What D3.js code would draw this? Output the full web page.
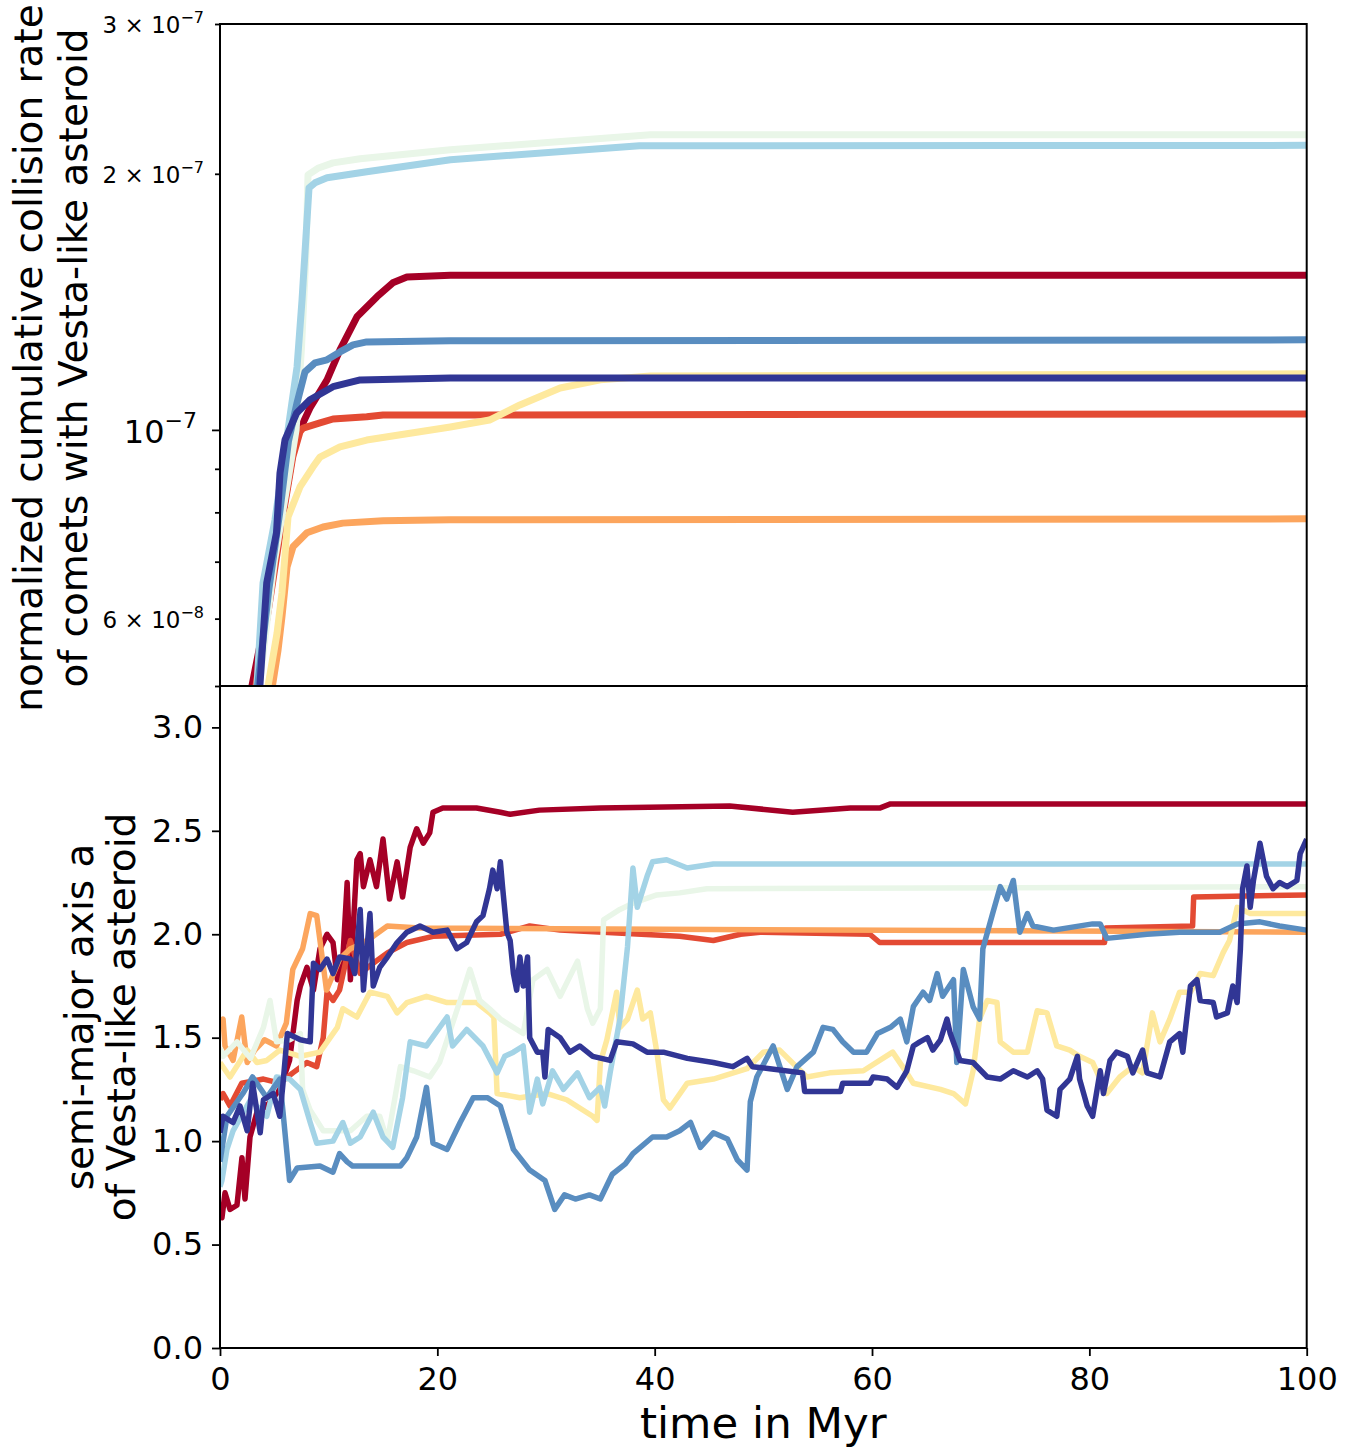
<!DOCTYPE html>
<html>
<head>
<meta charset="utf-8">
<script src="https://cdn.jsdelivr.net/npm/d3@7"></script>
<style>
body { margin: 0; background: #fff; }
svg text { font-family: "DejaVu Sans", sans-serif; fill: #000; }
</style>
</head>
<body>
<div id="container"></div>
<script>
// colours of the eight runs (RdYlBu sampled at 8 steps)
let seriesColors = ["#a50026", "#e34a33", "#fca55d", "#fee99e", "#e9f6e8", "#a3d3e6", "#598dc0", "#313695"];

// top panel: [time in Myr, normalized cumulative collision rate]
let rateRed = [[2.5,4.2e-8],[2.94,5.0e-8],[4.14,5.98e-8],[5.52,7.63e-8],[6.9,9.73e-8],[8.28,1.061e-7],[9.85,1.145e-7],[11.04,1.242e-7],[12.6,1.358e-7],[14.45,1.434e-7],[15.9,1.489e-7],[17.2,1.513e-7],[21.2,1.52e-7],[100,1.52e-7]];
let rateRedOrange = [[2.8,4.2e-8],[3.3,5.0e-8],[4.5,6.2e-8],[5.7,7.8e-8],[6.7,9.3e-8],[7.36,9.95e-8],[7.64,1.005e-7],[9.2,1.019e-7],[10.4,1.03e-7],[13.5,1.036e-7],[15,1.041e-7],[100,1.044e-7]];
let rateOrange = [[4.4,4.3e-8],[4.79,4.97e-8],[5.34,5.51e-8],[5.7,6.03e-8],[6.17,6.9e-8],[6.72,7.29e-8],[8.0,7.57e-8],[9.48,7.69e-8],[11.3,7.77e-8],[15,7.82e-8],[21.2,7.84e-8],[100,7.86e-8]];
let rateYellow = [[4.0,4.3e-8],[4.42,5.0e-8],[5.25,5.77e-8],[5.7,6.43e-8],[6.26,7.9e-8],[7.36,8.57e-8],[8.56,9.05e-8],[9.2,9.29e-8],[11.04,9.55e-8],[13.5,9.73e-8],[16.6,9.87e-8],[21.2,1.008e-7],[24.8,1.027e-7],[27.6,1.07e-7],[31.3,1.12e-7],[35,1.145e-7],[39.6,1.157e-7],[100,1.164e-7]];
let ratePaleGreen = [[3.2,4.3e-8],[3.6,5.0e-8],[5.0,7.0e-8],[6.3,8.8e-8],[7.0,1.0e-7],[7.5,1.25e-7],[7.9,1.6e-7],[8.1,1.994e-7],[9.0,2.03e-7],[10.4,2.06e-7],[12.9,2.083e-7],[21.2,2.134e-7],[39.6,2.223e-7],[100,2.223e-7]];
let rateLightBlue = [[3.0,4.2e-8],[3.4,5.0e-8],[3.96,6.61e-8],[5.06,7.84e-8],[6.26,1.0e-7],[7.09,1.186e-7],[7.55,1.422e-7],[8.19,1.925e-7],[8.74,1.952e-7],[9.85,1.979e-7],[13.5,2.011e-7],[21.2,2.078e-7],[38.6,2.158e-7],[100,2.16e-7]];
let rateMidBlue = [[2.9,4.3e-8],[3.3,4.8e-8],[4.5,6.5e-8],[5.5,8.0e-8],[6.3,9.7e-8],[7.09,1.076e-7],[7.82,1.17e-7],[8.74,1.199e-7],[9.85,1.209e-7],[11.04,1.235e-7],[12.24,1.259e-7],[13.5,1.269e-7],[21.2,1.273e-7],[100,1.276e-7]];
let rateNavy = [[3.2,4.3e-8],[3.68,5.02e-8],[4.3,6.61e-8],[5.2,7.57e-8],[5.52,8.9e-8],[5.98,9.73e-8],[7.06,1.047e-7],[8.28,1.085e-7],[10.4,1.124e-7],[12.9,1.145e-7],[21.2,1.151e-7],[100,1.151e-7]];

// bottom panel: [time in Myr, semi-major axis a]
let semiRed = [[0,0.64],[0.18,0.63],[0.46,0.75],[0.92,0.67],[1.56,0.69],[2.02,0.92],[2.3,0.72],[2.76,1.02],[3.4,1.14],[4.3,1.17],[5.5,1.25],[6.4,1.39],[7.1,1.68],[7.4,1.75],[8.0,1.84],[8.6,1.73],[9.2,1.93],[9.85,2.0],[10.4,1.96],[10.8,1.78],[11.3,1.88],[11.7,2.25],[12.0,1.78],[12.2,1.97],[12.6,2.36],[12.9,2.39],[13.2,2.23],[13.8,2.36],[14.4,2.23],[15.0,2.46],[15.6,2.17],[16.3,2.35],[16.8,2.18],[17.5,2.42],[18.1,2.51],[18.7,2.44],[19.3,2.49],[19.6,2.59],[20.5,2.61],[23.6,2.61],[25.8,2.59],[26.7,2.58],[29.4,2.6],[35,2.61],[46.9,2.62],[52.7,2.59],[58,2.61],[60.7,2.61],[61.7,2.63],[100,2.63]];
let semiRedOrange = [[0,1.2],[0.28,1.23],[0.92,1.17],[2,1.28],[4,1.3],[5.5,1.28],[6.7,1.33],[8.0,1.38],[8.9,1.36],[9.5,1.5],[9.85,1.72],[10.4,1.68],[11,1.73],[12,1.97],[12.9,1.81],[14.1,1.86],[15.4,1.91],[17.2,1.96],[19.6,1.99],[25.8,2.0],[28.5,2.04],[31.3,2.02],[42.3,1.99],[45.4,1.97],[47.9,2.0],[49.7,2.01],[59.8,2.0],[60.7,1.96],[81.4,1.96],[81.5,2.03],[89.5,2.04],[89.6,2.18],[100,2.19]];
let semiOrange = [[0,1.54],[0.28,1.59],[0.46,1.46],[1.2,1.39],[2.0,1.6],[2.5,1.38],[3.2,1.44],[4.1,1.49],[5.2,1.46],[6.1,1.57],[6.7,1.83],[7.6,1.93],[8.3,2.1],[8.9,2.09],[9.4,1.89],[9.8,1.73],[11,1.88],[12,1.93],[12.9,1.95],[14.1,1.99],[15.4,2.04],[18.4,2.03],[100,2.01]];
let semiYellow = [[0,1.38],[0.92,1.31],[2.5,1.44],[3.4,1.38],[4.3,1.39],[5.5,1.44],[7.4,1.41],[9.2,1.43],[10.8,1.55],[11.3,1.64],[12.6,1.6],[13.8,1.72],[15.4,1.7],[16.3,1.62],[17.2,1.67],[19.0,1.7],[20.9,1.67],[23.6,1.67],[24.8,1.62],[25.2,1.6],[25.5,1.23],[27.6,1.21],[30.1,1.23],[31.9,1.2],[34.3,1.12],[34.7,1.1],[35,1.38],[35.6,1.49],[36.5,1.72],[36.8,1.55],[37.5,1.59],[38.4,1.73],[38.9,1.59],[39.6,1.62],[40.2,1.43],[40.8,1.2],[41.4,1.16],[43,1.28],[45.4,1.3],[48.5,1.35],[50,1.43],[51.5,1.44],[54,1.31],[56.1,1.33],[59.2,1.34],[61.9,1.43],[63.2,1.33],[63.8,1.28],[66.3,1.25],[67.5,1.23],[68.6,1.18],[69.3,1.34],[69.9,1.59],[70.6,1.68],[71.5,1.67],[71.8,1.48],[73,1.43],[74.3,1.43],[75.2,1.63],[76.1,1.62],[77,1.46],[78.2,1.44],[79.1,1.41],[80.3,1.38],[81.6,1.23],[82.8,1.31],[84,1.36],[84.9,1.33],[85.8,1.62],[86.5,1.48],[87.4,1.59],[88.3,1.72],[89.3,1.72],[90.2,1.81],[91.4,1.8],[92.3,1.91],[92.9,1.97],[93.6,2.13],[94.8,2.1],[100,2.1]];
let semiPaleGreen = [[0,1.45],[0.28,1.41],[1.56,1.48],[2.8,1.4],[4.0,1.55],[4.6,1.68],[5.2,1.48],[6.4,1.49],[7.4,1.52],[7.6,1.25],[8.3,1.15],[9.5,1.05],[12,1.05],[13.5,1.12],[14.7,1.12],[15.4,1.0],[16.6,1.36],[17.8,1.34],[19.3,1.31],[20.2,1.38],[20.9,1.49],[22.1,1.68],[23,1.83],[23.9,1.68],[24.8,1.64],[25.8,1.59],[27.9,1.52],[28.8,1.78],[30.1,1.83],[31.3,1.7],[32.9,1.87],[33.8,1.64],[34.3,1.57],[35,1.64],[35.3,2.07],[36.8,2.12],[38,2.15],[40.2,2.19],[42.3,2.2],[44.8,2.22],[100,2.23]];
let semiLightBlue = [[0,0.78],[0.18,0.81],[0.64,0.96],[1.2,1.05],[2.8,1.2],[4.3,1.12],[5.2,1.31],[6.4,1.3],[7.4,1.25],[8.3,1.09],[8.9,0.99],[10.4,1.0],[11.3,1.09],[12,0.99],[12.9,1.02],[14.1,1.14],[15,1.02],[15.9,0.97],[16.8,1.21],[17.5,1.48],[19,1.46],[20.9,1.6],[21.4,1.46],[22.7,1.54],[24.2,1.46],[25.5,1.33],[26.2,1.41],[27,1.43],[27.9,1.46],[28.5,1.14],[29.2,1.3],[29.7,1.18],[30.6,1.34],[31.6,1.25],[32.9,1.33],[34,1.21],[35,1.26],[35.4,1.17],[35.9,1.33],[36.8,1.59],[37.5,1.94],[38,2.32],[38.4,2.13],[39.3,2.28],[39.8,2.35],[41.1,2.36],[43,2.32],[45.4,2.34],[100,2.34]];
let semiMidBlue = [[0,0.9],[0.64,1.12],[2.1,1.23],[3.0,1.31],[4.3,1.21],[5.5,1.3],[5.8,1.14],[6.2,0.92],[6.4,0.81],[7.1,0.87],[9.2,0.88],[10.4,0.85],[11,0.94],[11.7,0.9],[12.2,0.88],[16.6,0.88],[17.2,0.92],[18.1,1.02],[19,1.26],[19.6,0.99],[20.9,0.96],[22.1,1.09],[23.3,1.21],[24.6,1.21],[25.8,1.17],[27,0.96],[28.5,0.86],[29.9,0.81],[30.8,0.67],[31.7,0.74],[32.7,0.72],[34,0.74],[35,0.72],[36.1,0.84],[37.3,0.89],[38,0.94],[39.8,1.02],[41.1,1.02],[42.3,1.05],[43.3,1.09],[44.2,0.97],[45.4,1.04],[46.7,1.01],[47.6,0.91],[48.5,0.86],[48.8,1.19],[49.4,1.31],[50.9,1.46],[52.2,1.25],[53.1,1.36],[54.6,1.43],[55.5,1.55],[56.4,1.54],[57.3,1.48],[58.3,1.43],[59.5,1.43],[60.5,1.52],[61.7,1.55],[62.6,1.59],[63.2,1.48],[63.8,1.65],[64.7,1.72],[65.3,1.68],[66,1.81],[66.5,1.7],[67.5,1.78],[67.8,1.38],[68.4,1.83],[69.3,1.65],[69.9,1.59],[70.2,1.93],[71.1,2.1],[71.8,2.23],[72.4,2.17],[73,2.26],[73.6,2.01],[74.3,2.1],[74.8,2.04],[76.7,2.02],[80.3,2.05],[81,2.05],[81.6,1.98],[85.3,2.0],[88.3,2.01],[92,2.01],[93.6,2.05],[95.7,2.06],[97.5,2.04],[100,2.02]];
let semiNavy = [[0,1.04],[0.28,1.12],[1.2,1.09],[1.84,1.17],[2.5,1.05],[3.0,1.28],[3.7,1.04],[4,1.2],[4.9,1.23],[5.5,1.12],[5.8,1.28],[6.2,1.52],[7.4,1.49],[8.3,1.48],[8.6,1.86],[9.2,1.83],[9.85,1.88],[10.4,1.81],[11,1.89],[12,1.88],[12.4,1.81],[12.9,2.12],[13.2,1.73],[13.8,2.1],[14.1,1.75],[14.7,1.84],[15.4,1.89],[16.3,1.96],[17.2,2.01],[18.4,2.04],[19.6,2.01],[20.9,2.02],[21.8,1.93],[22.7,1.96],[23.6,2.06],[24.2,2.09],[24.8,2.22],[25.1,2.31],[25.5,2.22],[25.8,2.35],[26,2.23],[26.4,2.01],[26.7,1.97],[27,1.81],[27.3,1.73],[27.6,1.89],[27.9,1.75],[28.3,1.89],[28.5,1.5],[29.2,1.43],[29.7,1.43],[29.9,1.31],[30.2,1.54],[31.3,1.5],[32.2,1.43],[33.1,1.46],[34.3,1.41],[35.9,1.39],[36.5,1.48],[38,1.47],[39.3,1.43],[40.8,1.43],[43,1.4],[45.4,1.38],[47.2,1.36],[48.5,1.4],[49,1.36],[50.6,1.35],[53.6,1.33],[53.8,1.24],[57.1,1.24],[57.3,1.28],[59.8,1.28],[60.1,1.31],[61.4,1.3],[62.3,1.26],[63.2,1.34],[63.8,1.46],[64.4,1.48],[65.1,1.5],[65.6,1.44],[66.3,1.49],[66.9,1.59],[67.2,1.52],[68.1,1.39],[69.3,1.38],[70.6,1.31],[71.8,1.3],[73,1.34],[74.3,1.31],[75.2,1.34],[75.7,1.3],[76.1,1.15],[77,1.12],[77.3,1.25],[78.2,1.3],[78.9,1.41],[79.1,1.3],[79.8,1.17],[80.3,1.12],[81,1.34],[81.3,1.23],[81.9,1.39],[82.5,1.43],[83.5,1.41],[84,1.33],[84.9,1.44],[85.3,1.33],[86.5,1.31],[87.4,1.48],[88.3,1.52],[88.6,1.43],[89.3,1.75],[89.9,1.78],[90.2,1.68],[91.4,1.67],[91.7,1.6],[92.7,1.62],[93.2,1.75],[93.6,1.67],[93.9,1.93],[94.1,2.22],[94.5,2.33],[94.8,2.13],[95.1,2.26],[95.7,2.44],[96.3,2.28],[96.9,2.22],[97.5,2.25],[98.2,2.23],[99.1,2.26],[99.4,2.39],[100,2.46]];

let rateSeries = [rateRed, rateRedOrange, rateOrange, rateYellow, ratePaleGreen, rateLightBlue, rateMidBlue, rateNavy];
let semiSeries = [semiRed, semiRedOrange, semiOrange, semiYellow, semiPaleGreen, semiLightBlue, semiMidBlue, semiNavy];

// axis ticks
let timeTicks = [0, 20, 40, 60, 80, 100];
let semiTicks = [0, 0.5, 1.0, 1.5, 2.0, 2.5, 3.0];
let rateMajorTicks = [1e-7];
let rateMinorTicks = [5e-8, 6e-8, 7e-8, 8e-8, 9e-8, 2e-7, 3e-7];
let rateMinorLabels = [[3e-7, "3", "−7"], [2e-7, "2", "−7"], [6e-8, "6", "−8"]];

let w = 1352;
let h = 1451;
let left = 220, right = 1306.7;
let top1 = 24, bot1 = 686, top2 = 686, bot2 = 1348;

let viz = d3.select("#container")
  .append("svg")
    .attr("width", w)
    .attr("height", h)
    .style("background-color", "white");

let xScale = d3.scaleLinear().domain([0, 100]).range([left, right]);
let rateScale = d3.scaleLog().domain([5e-8, 3e-7]).range([bot1, top1]);
let semiScale = d3.scaleLinear().domain([0, 3.2]).range([bot2, top2]);

let defs = viz.append("defs");
defs.append("clipPath").attr("id", "clipTop")
  .append("rect").attr("x", left).attr("y", top1).attr("width", right - left).attr("height", bot1 - top1);
defs.append("clipPath").attr("id", "clipBot")
  .append("rect").attr("x", left).attr("y", top2).attr("width", right - left).attr("height", bot2 - top2);

// lines
let rateLine = d3.line().x(d => xScale(d[0])).y(d => rateScale(d[1]));
let semiLine = d3.line().x(d => xScale(d[0])).y(d => semiScale(d[1]));

viz.append("g").attr("clip-path", "url(#clipTop)")
  .selectAll("path").data(rateSeries).enter().append("path")
    .attr("d", rateLine)
    .attr("fill", "none")
    .attr("stroke", (d, i) => seriesColors[i])
    .attr("stroke-width", 7)
    .attr("stroke-linejoin", "round");

viz.append("g").attr("clip-path", "url(#clipBot)")
  .selectAll("path").data(semiSeries).enter().append("path")
    .attr("d", semiLine)
    .attr("fill", "none")
    .attr("stroke", (d, i) => seriesColors[i])
    .attr("stroke-width", 5.5)
    .attr("stroke-linejoin", "round");

// frames
[[top1, bot1], [top2, bot2]].forEach(p => {
  viz.append("rect")
    .attr("x", left).attr("y", p[0])
    .attr("width", right - left).attr("height", p[1] - p[0])
    .attr("fill", "none").attr("stroke", "black").attr("stroke-width", 2);
});

function styleAxis(g) {
  g.select(".domain").remove();
  g.selectAll(".tick line").attr("stroke", "black").attr("stroke-width", 1.8);
}

// bottom x axis
viz.append("g")
  .attr("transform", "translate(0," + bot2 + ")")
  .call(d3.axisBottom(xScale).tickValues(timeTicks).tickSize(8).tickPadding(11).tickFormat(d3.format("d")))
  .call(styleAxis)
  .selectAll("text").style("font-size", "32px").attr("font-family", "DejaVu Sans");

// bottom y axis
viz.append("g")
  .attr("transform", "translate(" + left + ",0)")
  .call(d3.axisLeft(semiScale).tickValues(semiTicks).tickSize(8).tickPadding(9).tickFormat(d3.format(".1f")))
  .call(styleAxis)
  .selectAll("text").style("font-size", "32px").attr("font-family", "DejaVu Sans");

// top y axis: minor and major ticks
viz.append("g")
  .attr("transform", "translate(" + left + ",0)")
  .call(d3.axisLeft(rateScale).tickValues(rateMinorTicks).tickSize(5).tickFormat(""))
  .call(styleAxis);
viz.append("g")
  .attr("transform", "translate(" + left + ",0)")
  .call(d3.axisLeft(rateScale).tickValues(rateMajorTicks).tickSize(8).tickFormat(""))
  .call(styleAxis);

// major label 10^-7
let major = viz.append("g").selectAll("text").data(rateMajorTicks).enter().append("text")
  .attr("x", left - 23)
  .attr("y", d => rateScale(d) + 13)
  .attr("text-anchor", "end");
major.append("tspan").text("10").style("font-size", "32px");
major.append("tspan").text("−7").style("font-size", "22px").attr("dy", -15);

// minor labels a × 10^b
let minor = viz.append("g").selectAll("text").data(rateMinorLabels).enter().append("text")
  .attr("x", left - 16)
  .attr("y", d => rateScale(d[0]) + 9)
  .attr("text-anchor", "end");
minor.append("tspan").text(d => d[1] + " × 10").style("font-size", "23px");
minor.append("tspan").text(d => d[2]).style("font-size", "16px").attr("dy", -10);

// axis titles
viz.append("text")
  .text("time in Myr")
  .attr("x", (left + right) / 2)
  .attr("y", 1438)
  .attr("text-anchor", "middle")
  .style("font-size", "43.5px");

let topTitle = ["normalized cumulative collision rate", "of comets with Vesta-like asteroid"];
let botTitle = ["semi-major axis a", "of Vesta-like asteroid"];

topTitle.forEach((t, i) => {
  viz.append("text")
    .text(t)
    .attr("text-anchor", "middle")
    .attr("transform", "translate(" + (42 + 45 * i) + "," + ((top1 + bot1) / 2 + 3) + ") rotate(-90)")
    .style("font-size", "39px");
});
botTitle.forEach((t, i) => {
  viz.append("text")
    .text(t)
    .attr("text-anchor", "middle")
    .attr("transform", "translate(" + (93 + 42 * i) + "," + ((top2 + bot2) / 2) + ") rotate(-90)")
    .style("font-size", "39px");
});
</script>
</body>
</html>
